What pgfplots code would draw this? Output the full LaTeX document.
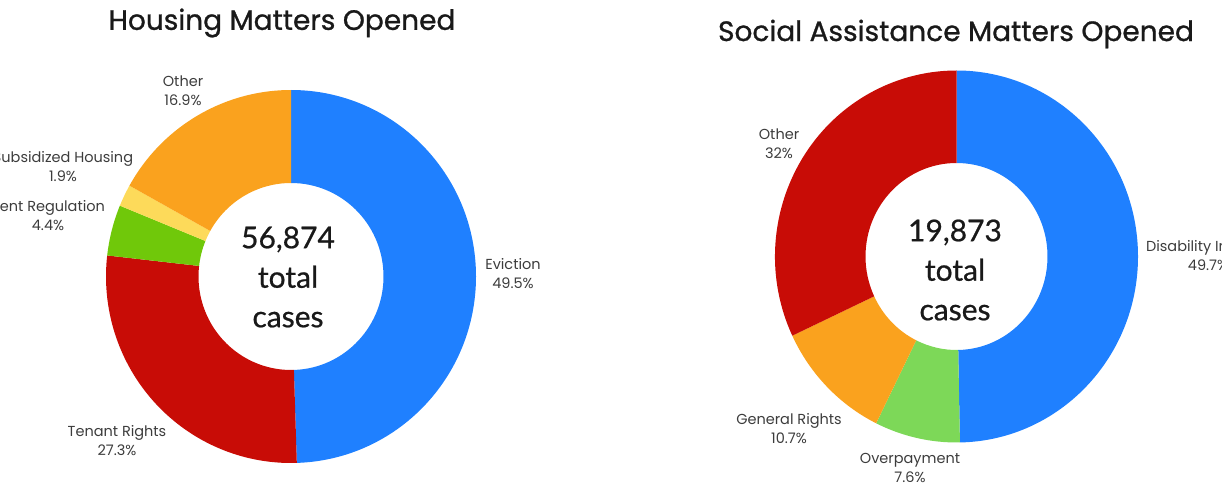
\documentclass[border=0pt]{standalone}
\usepackage{pgfplots}
\pgfplotsset{compat=1.18}
\usepackage{fontspec}
\setmainfont{Poppins}
\newfontfamily\ttlfont{Poppins}[FakeBold=0.9]
\newfontfamily\numfont{Lato}[FakeBold=0.7]

\definecolor{cblue}{RGB}{31,128,255}
\definecolor{cred}{RGB}{200,12,6}
\definecolor{cgreen}{RGB}{112,200,10}
\definecolor{cyellow}{RGB}{253,218,90}
\definecolor{corange}{RGB}{250,162,30}
\definecolor{clgreen}{RGB}{125,216,88}
\definecolor{ctitle}{RGB}{25,25,25}
\definecolor{clabel}{RGB}{60,60,60}

\tikzset{
    lbl/.style={font=\fontsize{14.5}{19}\selectfont, text=clabel, align=center},
    ttl/.style={font=\ttlfont\fontsize{28}{32}\selectfont, text=ctitle},
    mid/.style={font=\numfont\fontsize{30}{39.5}\selectfont, text=ctitle, align=center}
}

% donut: centre x, centre y, outer rx, outer ry, inner rx, inner ry,
% list of percent/colour (clockwise from 12 o'clock)
\newcommand{\donut}[7]{%
  \xdef\cum{0}%
  \pgfmathsetmacro\dx{#3-#5}%
  \pgfmathsetmacro\dy{#4-#6}%
  \foreach \p/\col in {#7}{%
    \pgfmathsetmacro\angA{90-3.6*\cum}%
    \pgfmathparse{\cum+\p}\xdef\cum{\pgfmathresult}%
    \pgfmathsetmacro\angB{90-3.6*\cum}%
    \pgfmathsetmacro\angC{\angB+180}%
    \edef\tmp{\noexpand\fill[\col] (axis cs:#1,#2) ++(\angA:#3pt and #4pt)
      arc[start angle=\angA,end angle=\angB,x radius=#3pt,y radius=#4pt]
      -- ++(\angC:\dx pt and \dy pt)
      arc[start angle=\angB,end angle=\angA,x radius=#5pt,y radius=#6pt] -- cycle;}%
    \tmp
  }%
}

\begin{document}
\begin{tikzpicture}
\useasboundingbox (0,0) rectangle (1222pt,485pt);
\begin{axis}[
    at={(0,0)}, anchor=origin,
    width=1222pt, height=485pt, scale only axis,
    xmin=0, xmax=1222, ymin=0, ymax=485,
    hide axis, clip=false
]
% Housing matters
\donut{291}{208.5}{185}{186.5}{92.5}{93.5}{49.5/cblue, 27.3/cred, 4.4/cgreen, 1.9/cyellow, 16.9/corange}
% Social assistance matters
\donut{956.5}{228.5}{181.5}{186}{91}{93.5}{49.7/cblue, 7.6/clgreen, 10.7/corange, 32/cred}

\node[ttl] at (axis cs:282,462) {Housing Matters Opened};
\node[ttl] at (axis cs:956,451) {Social Assistance Matters Opened};

\node[mid] at (axis cs:288,208) {56,874\\total\\cases};
\node[mid] at (axis cs:955,215) {19,873\\total\\cases};

\node[lbl] at (axis cs:513,211) {Eviction\\49.5\%};
\node[lbl] at (axis cs:117,44) {Tenant Rights\\27.3\%};
\node[lbl] at (axis cs:48,269) {Rent Regulation\\4.4\%};
\node[lbl] at (axis cs:63,318) {Subsidized Housing\\1.9\%};
\node[lbl] at (axis cs:183,394) {Other\\16.9\%};

\node[lbl] at (axis cs:1208,229.5) {Disability Income\\49.7\%};
\node[lbl] at (axis cs:910,17) {Overpayment\\7.6\%};
\node[lbl] at (axis cs:789,56) {General Rights\\10.7\%};
\node[lbl] at (axis cs:779,341) {Other\\32\%};
\end{axis}
\end{tikzpicture}
\end{document}
